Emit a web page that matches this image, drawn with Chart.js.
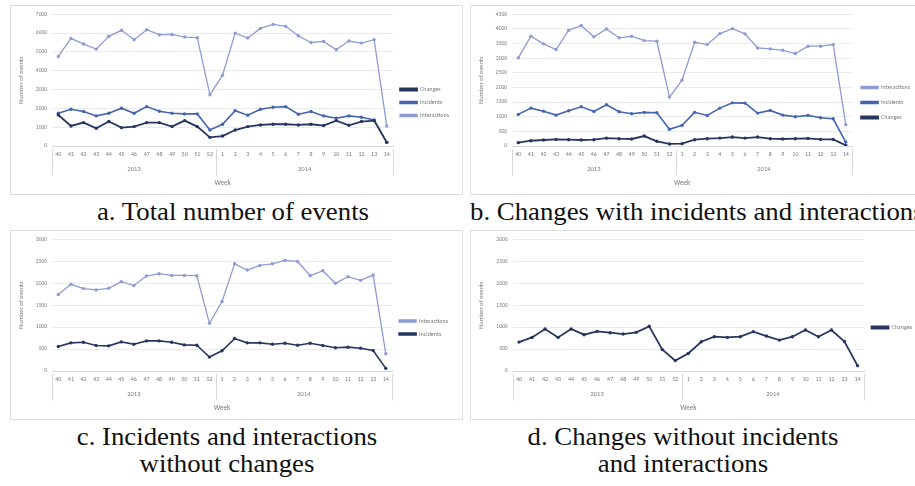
<!DOCTYPE html>
<html>
<head>
<meta charset="utf-8">
<script src="https://cdn.jsdelivr.net/npm/chart.js@4"></script>
<style>
  html, body { margin: 0; padding: 0; background: #fff; }
  body { width: 915px; height: 486px; overflow: hidden; position: relative; }
  .panel { position: absolute; width: 453px; height: 190px; border: 1px solid #dcdcdc; box-sizing: border-box; }
  .panel canvas { position: absolute; left: 0; top: 0; }
  .caption { position: absolute; font-family: "Liberation Serif", "Times New Roman", serif; font-size: 26px; color: #111; white-space: nowrap; text-align: center; line-height: 27px; transform: scaleX(1.03); transform-origin: center top; }
</style>
</head>
<body>
<div class="panel" style="left:10px; top:5px;"><canvas id="grafikA" width="451" height="188"></canvas></div>
<div class="panel" style="left:470px; top:5px;"><canvas id="grafikB" width="451" height="188"></canvas></div>
<div class="panel" style="left:10px; top:230px;"><canvas id="grafikC" width="451" height="188"></canvas></div>
<div class="panel" style="left:470px; top:230px;"><canvas id="grafikD" width="451" height="188"></canvas></div>

<div class="caption" style="left:33px; top:198px; width:400px;">a. Total number of events</div>
<div class="caption" style="left:470px; top:198px; text-align:left; transform-origin:left top;">b. Changes with incidents and interactions</div>
<div class="caption" style="left:27px; top:423px; width:400px;">c. Incidents and interactions<br>without changes</div>
<div class="caption" style="left:483px; top:423px; width:400px;">d. Changes without incidents<br>and interactions</div>

<script>
// minggu (week) per tahun
const weeks2013 = [40, 41, 42, 43, 44, 45, 46, 47, 48, 49, 50, 51, 52];
const weeks2014 = [1, 2, 3, 4, 5, 6, 7, 8, 9, 10, 11, 12, 13, 14];
const years = ['2013', '2014'];
const weekLabels = weeks2013.concat(weeks2014).map(String);

// a. Total number of events
const totalChanges = [1650, 1065, 1245, 940, 1300, 975, 1030, 1245, 1245, 1030, 1350, 1030, 460,
  530, 850, 1030, 1120, 1155, 1155, 1120, 1155, 1085, 1350, 1100, 1300, 1350, 195];
const totalIncidents = [1740, 1955, 1830, 1600, 1740, 2010, 1740, 2095, 1850, 1740, 1705, 1705, 850,
  1155, 1880, 1635, 1955, 2060, 2095, 1690, 1830, 1600, 1475, 1600, 1530, 1385, 195];
const totalInteractions = [4760, 5720, 5420, 5150, 5830, 6150, 5650, 6180, 5915, 5930, 5790, 5755, 2720,
  3765, 6000, 5740, 6250, 6465, 6360, 5860, 5500, 5560, 5115, 5580, 5470, 5650, 1065];

// b. Changes with incidents and interactions
const withInteractions = [3010, 3750, 3490, 3295, 3955, 4115, 3730, 4000, 3695, 3750, 3600, 3580, 1670,
  2250, 3545, 3465, 3840, 4010, 3830, 3350, 3320, 3270, 3160, 3410, 3410, 3465, 730];
const withIncidents = [1080, 1295, 1190, 1055, 1205, 1340, 1180, 1410, 1170, 1100, 1150, 1135, 570,
  705, 1150, 1045, 1295, 1475, 1465, 1125, 1215, 1055, 1000, 1045, 965, 930, 135];
const withChanges = [115, 180, 205, 225, 215, 205, 215, 270, 250, 240, 340, 160, 70,
  80, 215, 250, 270, 305, 270, 305, 250, 240, 250, 260, 225, 225, 25];

// c. Incidents and interactions without changes
const noChangeInteractions = [1741, 1975, 1877, 1847, 1884, 2035, 1945, 2163, 2216, 2178, 2178, 2171, 1085,
  1583, 2442, 2299, 2404, 2442, 2518, 2495, 2171, 2284, 1997, 2148, 2065, 2186, 392];
const noChangeIncidents = [558, 641, 656, 580, 573, 663, 611, 686, 686, 656, 595, 588, 317,
  460, 739, 641, 641, 611, 633, 588, 633, 580, 528, 543, 520, 467, 60];

// d. Changes without incidents and interactions
const aloneChanges = [658, 765, 957, 765, 957, 827, 903, 872, 842, 880, 1018, 490, 237,
  398, 666, 781, 765, 781, 895, 796, 704, 781, 934, 781, 934, 673, 122];

const warnaInteractions = '#8f9bd3';
const warnaIncidents = '#4565b0';
const warnaChanges = '#26365f';
const warnaTeks = '#7b7b7b';

const keluargaFont = 'Calibri, Carlito, "Liberation Sans", sans-serif';

function buatDataset(label, data, warna, tebal) {
    return {
        label: label,
        data: data,
        borderColor: warna,
        backgroundColor: warna,
        borderWidth: tebal,
        pointRadius: 1.7,
        pointBorderWidth: 0,
        pointBackgroundColor: warna,
        tension: 0,
        fill: false
    };
}

// garis pemisah kelompok tahun di bawah sumbu x
const pemisahTahun = {
    id: 'pemisahTahun',
    afterDraw(chart) {
        const sx = chart.scales.x;
        const sx2 = chart.scales.x2;
        const ctx = chart.ctx;
        const lebar = (sx.getPixelForValue(1) - sx.getPixelForValue(0)) / 2;
        const batas = [0, weeks2013.length, weekLabels.length];
        ctx.save();
        ctx.strokeStyle = '#d9d9d9';
        ctx.lineWidth = 1;
        batas.forEach(function (i) {
            const px = Math.round(sx.getPixelForValue(0) - lebar + i * lebar * 2) + 0.5;
            ctx.beginPath();
            ctx.moveTo(px, sx.top + 3);
            ctx.lineTo(px, sx2.top + 17);
            ctx.stroke();
        });
        ctx.restore();
    }
};

function buatGrafik(id, datasets, yMax, yStep, padKanan, padLegend, lebarY) {
    const n1 = weeks2013.length;
    const n2 = weeks2014.length;
    const pusatTahun = [(n1 - 1) / 2, n1 + (n2 - 1) / 2];
    return new Chart(document.getElementById(id).getContext('2d'), {
        type: 'line',
        data: { labels: weekLabels, datasets: datasets },
        options: {
            responsive: false,
            animation: false,
            devicePixelRatio: 1,
            layout: { padding: { left: 0, top: 5, right: padKanan, bottom: 0 } },
            plugins: {
                legend: {
                    position: 'right',
                    labels: {
                        boxWidth: 17,
                        boxHeight: 2,
                        padding: padLegend,
                        color: warnaTeks,
                        font: { family: keluargaFont, size: 6 }
                    }
                },
                tooltip: { enabled: false }
            },
            scales: {
                x: {
                    type: 'category',
                    offset: true,
                    afterFit: function (scale) { scale.height = 12.5; },
                    grid: { display: false, drawTicks: false },
                    border: { display: true, color: '#d9d9d9' },
                    ticks: { color: warnaTeks, font: { family: keluargaFont, size: 6 }, maxRotation: 0, autoSkip: false, padding: 5 }
                },
                x2: {
                    type: 'linear',
                    position: 'bottom',
                    weight: 1,
                    min: -0.5,
                    max: weekLabels.length - 0.5,
                    afterFit: function (scale) { scale.height = 35.5; },
                    grid: { display: false, drawTicks: false },
                    border: { display: false },
                    afterBuildTicks: function (axis) {
                        axis.ticks = pusatTahun.map(function (v) { return { value: v }; });
                    },
                    ticks: {
                        color: warnaTeks,
                        font: { family: keluargaFont, size: 6.5 },
                        padding: 7,
                        maxRotation: 0,
                        callback: function (v) { return v < n1 ? years[0] : years[1]; }
                    },
                    title: { display: true, text: 'Week', color: warnaTeks, font: { family: keluargaFont, size: 7 }, padding: { top: 5.8, bottom: 6.8 } }
                },
                y: {
                    min: 0,
                    max: yMax,
                    afterFit: function (scale) { scale.width = lebarY; },
                    ticks: {
                        stepSize: yStep,
                        color: warnaTeks,
                        font: { family: keluargaFont, size: 5.5 },
                        padding: 5,
                        callback: function (v) { return String(v); }
                    },
                    grid: { color: '#ececec', drawTicks: false },
                    border: { display: false },
                    title: { display: true, text: 'Number of events', color: warnaTeks, font: { family: keluargaFont, size: 6.5 }, padding: { top: 6, bottom: 0 } }
                }
            }
        },
        plugins: [pemisahTahun]
    });
}

buatGrafik('grafikA', [
    buatDataset('Changes', totalChanges, warnaChanges, 1.8),
    buatDataset('Incidents', totalIncidents, warnaIncidents, 1.6),
    buatDataset('Interactions', totalInteractions, warnaInteractions, 1.3)
], 7000, 1000, 3, 7, 41);

buatGrafik('grafikB', [
    buatDataset('Interactions', withInteractions, warnaInteractions, 1.3),
    buatDataset('Incidents', withIncidents, warnaIncidents, 1.6),
    buatDataset('Changes', withChanges, warnaChanges, 1.8)
], 4500, 500, 2, 9, 41);

buatGrafik('grafikC', [
    buatDataset('Interactions', noChangeInteractions, warnaInteractions, 1.3),
    buatDataset('Incidents', noChangeIncidents, warnaChanges, 1.6)
], 3000, 500, 4, 7, 41);

buatGrafik('grafikD', [
    buatDataset('Changes', aloneChanges, warnaChanges, 1.8)
], 3000, 500, 0, 7.5, 41.5);
</script>
</body>
</html>
